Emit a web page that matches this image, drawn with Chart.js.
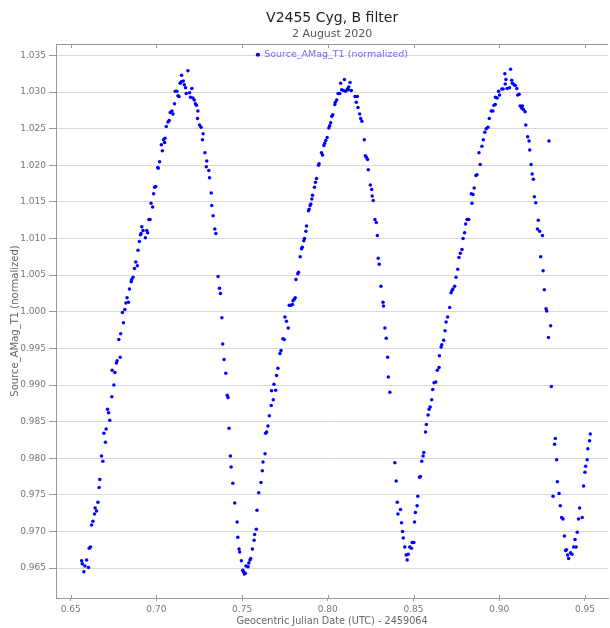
<!DOCTYPE html>
<html>
<head>
<meta charset="utf-8">
<title>V2455 Cyg, B filter</title>
<script src="https://cdn.jsdelivr.net/npm/chart.js@4.4.1/dist/chart.umd.min.js"></script>
<style>
  body { margin: 0; background: #fff; }
  #wrap { width: 610px; height: 628px; }
</style>
</head>
<body>
<div id="wrap"><canvas id="lightCurve"></canvas></div>
<script>
// labels
const chartTitle = "V2455 Cyg, B filter";
const chartSubtitle = "2 August 2020";
const seriesLabel = "Source_AMag_T1 (normalized)";
const xTitle = "Geocentric Julian Date (UTC) - 2459064";
const yTitle = "Source_AMag_T1 (normalized)";

// JD - 2459064
const jd = [
    0.6577, 0.6564, 0.6568, 0.6583, 0.6593, 0.6604, 0.6608, 0.6616, 0.6622, 0.6630,
    0.6639, 0.6643, 0.6651, 0.6659, 0.6666, 0.6670, 0.6680, 0.6688, 0.6694, 0.6703,
    0.6707, 0.6715, 0.6721, 0.6728, 0.6740, 0.6742, 0.6752, 0.6758, 0.6767, 0.6771,
    0.6781, 0.6789, 0.6792, 0.6802, 0.6808, 0.6816, 0.6822, 0.6829, 0.6837, 0.6843,
    0.6853, 0.6856, 0.6864, 0.6872, 0.6880, 0.6889, 0.6893, 0.6901, 0.6907, 0.6911,
    0.6915, 0.6922, 0.6936, 0.6944, 0.6949, 0.6957, 0.6963, 0.6969, 0.6978, 0.6984,
    0.6990, 0.6996, 0.7008, 0.7011, 0.7019, 0.7029, 0.7035, 0.7042, 0.7048, 0.7050,
    0.7058, 0.7068, 0.7075, 0.7081, 0.7091, 0.7097, 0.7106, 0.7110, 0.7120, 0.7126,
    0.7132, 0.7139, 0.7145, 0.7147, 0.7157, 0.7163, 0.7170, 0.7174, 0.7184, 0.7194,
    0.7199, 0.7207, 0.7213, 0.7221, 0.7228, 0.7234, 0.7240, 0.7242, 0.7252, 0.7261,
    0.7269, 0.7273, 0.7283, 0.7291, 0.7294, 0.7306, 0.7310, 0.7320, 0.7323, 0.7331,
    0.7341, 0.7347, 0.7360, 0.7368, 0.7374, 0.7382, 0.7387, 0.7395, 0.7405, 0.7413,
    0.7418, 0.7424, 0.7432, 0.7436, 0.7446, 0.7457, 0.7471, 0.7475, 0.7482, 0.7486,
    0.7496, 0.7504, 0.7508, 0.7513, 0.7519, 0.7523, 0.7535, 0.7539, 0.7546, 0.7550,
    0.7560, 0.7570, 0.7573, 0.7583, 0.7587, 0.7597, 0.7610, 0.7618, 0.7622, 0.7634,
    0.7637, 0.7643, 0.7651, 0.7659, 0.7670, 0.7672, 0.7682, 0.7686, 0.7696, 0.7701,
    0.7709, 0.7721, 0.7727, 0.7738, 0.7746, 0.7750, 0.7759, 0.7769, 0.7775, 0.7785,
    0.7794, 0.7797, 0.7804, 0.7810, 0.7814, 0.7825, 0.7829, 0.7839, 0.7847, 0.7851,
    0.7860, 0.7864, 0.7872, 0.7876, 0.7887, 0.7891, 0.7897, 0.7901, 0.7907, 0.7911,
    0.7922, 0.7928, 0.7934, 0.7946, 0.7949, 0.7963, 0.7969, 0.7977, 0.7982, 0.7988,
    0.7996, 0.8006, 0.8011, 0.8017, 0.8023, 0.8029, 0.8041, 0.8044, 0.8052, 0.8060,
    0.8070, 0.8075, 0.8081, 0.8091, 0.8097, 0.8104, 0.8114, 0.8120, 0.8122, 0.8130,
    0.8137, 0.8159, 0.8166, 0.8172, 0.8176, 0.8186, 0.8192, 0.8199, 0.8213, 0.8219,
    0.8225, 0.8232, 0.8236, 0.8248, 0.8256, 0.8259, 0.8265, 0.8275, 0.8283, 0.8289,
    0.8294, 0.8300, 0.8310, 0.8322, 0.8325, 0.8333, 0.8341, 0.8349, 0.8353, 0.8362,
    0.8391, 0.8399, 0.8405, 0.8409, 0.8424, 0.8430, 0.8436, 0.8440, 0.8449, 0.8457,
    0.8463, 0.8469, 0.8478, 0.8488, 0.8492, 0.8502, 0.8506, 0.8511, 0.8521, 0.8525,
    0.8535, 0.8540, 0.8548, 0.8556, 0.8560, 0.8570, 0.8575, 0.8585, 0.8591, 0.8597,
    0.8606, 0.8612, 0.8620, 0.8630, 0.8639, 0.8649, 0.8651, 0.8661, 0.8665, 0.8676,
    0.8684, 0.8690, 0.8699, 0.8711, 0.8719, 0.8725, 0.8730, 0.8740, 0.8748, 0.8758,
    0.8765, 0.8773, 0.8783, 0.8789, 0.8798, 0.8804, 0.8812, 0.8822, 0.8837, 0.8841,
    0.8847, 0.8854, 0.8864, 0.8870, 0.8882, 0.8889, 0.8899, 0.8907, 0.8916, 0.8924,
    0.8934, 0.8942, 0.8953, 0.8963, 0.8969, 0.8977, 0.8978, 0.8988, 0.8996, 0.9002,
    0.9015, 0.9023, 0.9035, 0.9039, 0.9033, 0.9046, 0.9060, 0.9066, 0.9073, 0.9077,
    0.9087, 0.9093, 0.9103, 0.9108, 0.9116, 0.9122, 0.9132, 0.9135, 0.9141, 0.9151,
    0.9155, 0.9166, 0.9174, 0.9178, 0.9186, 0.9192, 0.9199, 0.9205, 0.9213, 0.9223,
    0.9228, 0.9236, 0.9242, 0.9252, 0.9256, 0.9263, 0.9273, 0.9277, 0.9287, 0.9290,
    0.9300, 0.9304, 0.9314, 0.9323, 0.9327, 0.9335, 0.9339, 0.9349, 0.9356, 0.9364,
    0.9372, 0.9380, 0.9387, 0.9393, 0.9399, 0.9405, 0.9416, 0.9424, 0.9434, 0.9442,
    0.9449, 0.9455, 0.9463, 0.9469, 0.9484, 0.9492, 0.9500, 0.9504, 0.9513, 0.9517,
    0.9527, 0.9531
];

// normalized magnitude, same order as jd
const amag = [
    0.9645, 0.9660, 0.9656, 0.9653, 0.9661, 0.9651, 0.9677, 0.9679, 0.9709, 0.9714,
    0.9724, 0.9732, 0.9728, 0.9740, 0.9760, 0.9771, 0.9803, 0.9796, 0.9834, 0.9822,
    0.9840, 0.9867, 0.9862, 0.9852, 0.9884, 0.9920, 0.9900, 0.9917, 0.9930, 0.9933,
    0.9962, 0.9938, 0.9970, 0.9999, 0.9985, 1.0003, 1.0012, 1.0019, 1.0013, 1.0031,
    1.0041, 1.0044, 1.0047, 1.0059, 1.0068, 1.0063, 1.0084, 1.0096, 1.0105, 1.0107,
    1.0116, 1.0111, 1.0101, 1.0111, 1.0108, 1.0126, 1.0126, 1.0148, 1.0143, 1.0161,
    1.0170, 1.0171, 1.0197, 1.0196, 1.0205, 1.0228, 1.0220, 1.0235, 1.0231, 1.0237,
    1.0253, 1.0259, 1.0261, 1.0272, 1.0274, 1.0270, 1.0284, 1.0301, 1.0301, 1.0295,
    1.0294, 1.0312, 1.0314, 1.0323, 1.0315, 1.0310, 1.0306, 1.0298, 1.0329, 1.0299,
    1.0293, 1.0305, 1.0292, 1.0289, 1.0284, 1.0282, 1.0264, 1.0274, 1.0255, 1.0252,
    1.0235, 1.0243, 1.0217, 1.0198, 1.0206, 1.0193, 1.0183, 1.0162, 1.0145, 1.0131,
    1.0113, 1.0107, 1.0048, 1.0032, 1.0025, 0.9992, 0.9956, 0.9935, 0.9916, 0.9886,
    0.9883, 0.9841, 0.9803, 0.9788, 0.9766, 0.9739, 0.9713, 0.9692, 0.9676, 0.9672,
    0.9660, 0.9647, 0.9645, 0.9642, 0.9643, 0.9653, 0.9652, 0.9657, 0.9661, 0.9663,
    0.9676, 0.9688, 0.9696, 0.9703, 0.9729, 0.9753, 0.9767, 0.9783, 0.9795, 0.9806,
    0.9834, 0.9836, 0.9844, 0.9858, 0.9872, 0.9892, 0.9880, 0.9901, 0.9893, 0.9913,
    0.9923, 0.9943, 0.9947, 0.9963, 0.9962, 0.9993, 0.9987, 0.9978, 1.0009, 1.0009,
    1.0010, 1.0015, 1.0017, 1.0019, 1.0044, 1.0052, 1.0054, 1.0075, 1.0086, 1.0088,
    1.0097, 1.0100, 1.0110, 1.0117, 1.0138, 1.0140, 1.0145, 1.0147, 1.0154, 1.0159,
    1.0170, 1.0177, 1.0182, 1.0200, 1.0202, 1.0217, 1.0214, 1.0227, 1.0230, 1.0234,
    1.0238, 1.0251, 1.0254, 1.0258, 1.0267, 1.0269, 1.0283, 1.0286, 1.0289, 1.0298,
    1.0298, 1.0312, 1.0303, 1.0302, 1.0317, 1.0301, 1.0304, 1.0303, 1.0307, 1.0313,
    1.0302, 1.0294, 1.0286, 1.0294, 1.0279, 1.0270, 1.0264, 1.0260, 1.0235, 1.0213,
    1.0211, 1.0208, 1.0194, 1.0173, 1.0167, 1.0158, 1.0152, 1.0126, 1.0122, 1.0104,
    1.0073, 1.0065, 1.0035, 1.0013, 1.0008, 0.9978, 0.9964, 0.9938, 0.9911, 0.9890,
    0.9794, 0.9769, 0.9740, 0.9724, 0.9730, 0.9712, 0.9700, 0.9691, 0.9679, 0.9668,
    0.9661, 0.9669, 0.9679, 0.9677, 0.9685, 0.9685, 0.9713, 0.9726, 0.9735, 0.9748,
    0.9774, 0.9775, 0.9796, 0.9803, 0.9808, 0.9836, 0.9846, 0.9859, 0.9867, 0.9870,
    0.9880, 0.9894, 0.9903, 0.9904, 0.9920, 0.9924, 0.9940, 0.9952, 0.9955, 0.9961,
    0.9974, 0.9986, 0.9993, 1.0006, 1.0026, 1.0029, 1.0031, 1.0035, 1.0047, 1.0058,
    1.0074, 1.0080, 1.0085, 1.0100, 1.0108, 1.0120, 1.0126, 1.0126, 1.0161, 1.0148,
    1.0160, 1.0169, 1.0186, 1.0187, 1.0217, 1.0201, 1.0226, 1.0235, 1.0245, 1.0250,
    1.0252, 1.0264, 1.0274, 1.0274, 1.0282, 1.0283, 1.0293, 1.0292, 1.0301, 1.0296,
    1.0304, 1.0304, 1.0311, 1.0317, 1.0325, 1.0305, 1.0306, 1.0331, 1.0316, 1.0312,
    1.0310, 1.0309, 1.0305, 1.0296, 1.0297, 1.0281, 1.0278, 1.0281, 1.0276, 1.0273,
    1.0255, 1.0239, 1.0233, 1.0221, 1.0201, 1.0188, 1.0181, 1.0157, 1.0149, 1.0113,
    1.0125, 1.0110, 1.0075, 1.0104, 1.0056, 1.0030, 1.0004, 1.0001, 0.9965, 1.0233,
    0.9981, 0.9898, 0.9748, 0.9819, 0.9827, 0.9798, 0.9768, 0.9752, 0.9735, 0.9719,
    0.9717, 0.9694, 0.9674, 0.9675, 0.9668, 0.9663, 0.9671, 0.9669, 0.9679, 0.9689,
    0.9679, 0.9699, 0.9717, 0.9732, 0.9719, 0.9762, 0.9781, 0.9789, 0.9798, 0.9813,
    0.9824, 0.9833
];

// axis ranges and tick steps
const xRange = [0.64145, 0.9636];
const yRange = [0.96092, 1.03656];
const xStep = 0.05;
const yStep = 0.005;

Chart.defaults.font.family = "'DejaVu Sans', sans-serif";

// frame line on top + small inward ticks top and bottom
const frameTop = {
    id: "frameTop",
    afterDraw(chart) {
        const { ctx, chartArea, scales } = chart;
        const x = scales.x;
        ctx.save();
        ctx.strokeStyle = "#999";
        ctx.lineWidth = 1;
        ctx.beginPath();
        ctx.moveTo(chartArea.left, chartArea.top + 0.5);
        ctx.lineTo(chartArea.right, chartArea.top + 0.5);
        x.ticks.forEach(t => {
            const px = Math.round(x.getPixelForValue(t.value)) + 0.5;
            ctx.moveTo(px, chartArea.top);
            ctx.lineTo(px, chartArea.top + 4);
            ctx.moveTo(px, chartArea.bottom);
            ctx.lineTo(px, chartArea.bottom - 3);
        });
        ctx.stroke();
        ctx.restore();
    }
};

// legend sits inside the plot, centred along the top
const legendTopCenter = {
    id: "legendTopCenter",
    beforeDraw(chart) {
        const lg = chart.legend;
        const ca = chart.chartArea;
        if (!lg || !lg.legendHitBoxes.length) return;
        const itemW = lg.legendHitBoxes[0].width;
        const pad = lg.options.labels.padding;
        const left = (ca.left + ca.right) / 2 - itemW / 2 - pad;
        const h = lg.height;
        lg.left = left;
        lg.right = left + lg.width;
        lg.top = ca.top;
        lg.bottom = ca.top + h;
    }
};

const points = jd.map((v, i) => ({ x: v, y: amag[i] }));

new Chart(document.getElementById("lightCurve"), {
    type: "scatter",
    data: {
        datasets: [{
            label: seriesLabel,
            data: points,
            backgroundColor: "#0000ff",
            borderColor: "#0000ff",
            borderWidth: 0,
            pointRadius: 1.75,
            pointBorderWidth: 0,
            pointHoverRadius: 1.75
        }]
    },
    options: {
        responsive: true,
        maintainAspectRatio: false,
        animation: false,
        layout: { padding: { left: 0, right: 0, top: 0, bottom: 0 } },
        plugins: {
            title: {
                display: true,
                text: chartTitle,
                fullSize: false,
                color: "#222",
                font: { size: 14, weight: "normal" },
                padding: { top: 10, bottom: 0 }
            },
            subtitle: {
                display: true,
                text: chartSubtitle,
                fullSize: false,
                color: "#555",
                font: { size: 11 },
                padding: { top: 1, bottom: 3 }
            },
            legend: {
                position: "chartArea",
                align: "start",
                labels: {
                    usePointStyle: true,
                    pointStyle: "circle",
                    boxWidth: 3,
                    boxHeight: 3,
                    padding: 6,
                    color: "#6a6aff",
                    font: { size: 9.5 }
                }
            },
            tooltip: { enabled: false }
        },
        scales: {
            x: {
                type: "linear",
                min: xRange[0],
                max: xRange[1],
                afterFit: s => { s.height = 30; },
                border: { color: "#999", width: 1 },
                grid: { drawOnChartArea: false, tickLength: 3, tickColor: "#999" },
                ticks: {
                    stepSize: xStep,
                    includeBounds: false,
                    color: "#777",
                    padding: 3,
                    maxRotation: 0,
                    font: { size: 9 },
                    callback: v => v.toFixed(2)
                },
                title: {
                    display: true,
                    text: xTitle,
                    color: "#666",
                    font: { size: 9.7 },
                    padding: { top: 0, bottom: 1 }
                }
            },
            y: {
                type: "linear",
                min: yRange[0],
                max: yRange[1],
                afterFit: s => { s.width = 56; },
                border: { color: "#999", width: 1 },
                grid: { color: "#d9d9d9", lineWidth: 1, tickLength: 7, tickColor: "#999" },
                ticks: {
                    stepSize: yStep,
                    includeBounds: false,
                    autoSkip: false,
                    color: "#777",
                    padding: 3,
                    font: { size: 9 },
                    callback: v => v.toFixed(3)
                },
                title: {
                    display: true,
                    text: yTitle,
                    color: "#666",
                    font: { size: 10 },
                    padding: { top: 9, bottom: 0 }
                }
            }
        }
    },
    plugins: [frameTop, legendTopCenter]
});
</script>
</body>
</html>
